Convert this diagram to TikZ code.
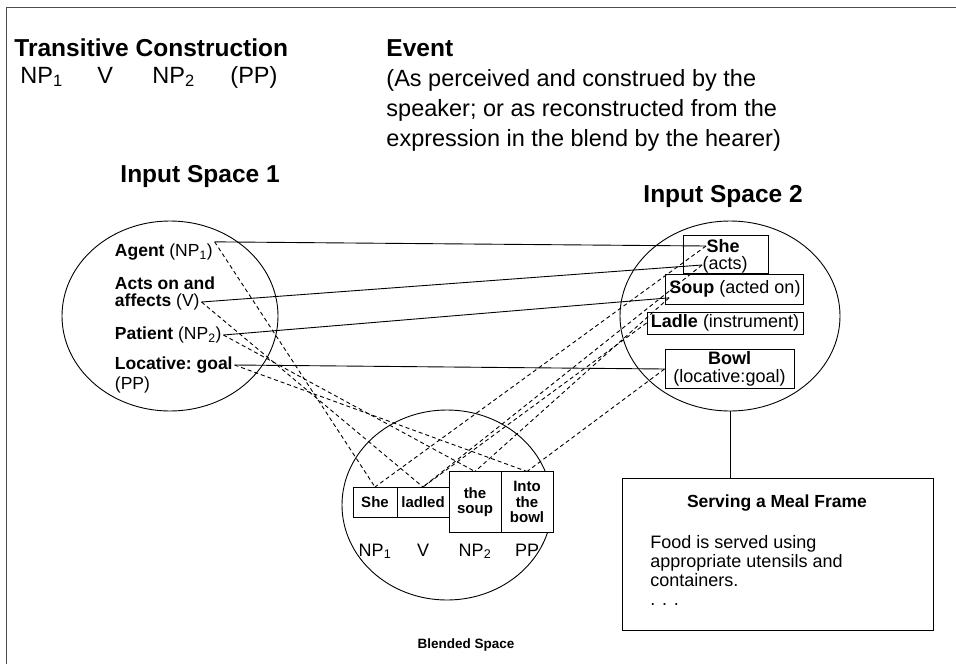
\documentclass[tikz,border=0pt]{standalone}
\usepackage{fontspec}
\setmainfont{Liberation Sans}
\usetikzlibrary{positioning,shapes.geometric}
\definecolor{pFrame}{gray}{0.3}
\tikzset{
    hdr/.style={anchor=west, inner sep=0pt, font=\fontsize{24.5}{30}\selectfont\bfseries},
    txt/.style={anchor=west, inner sep=0pt, align=left, font=\fontsize{23.5}{30}\selectfont},
    spc/.style={ellipse, draw, inner sep=0pt},
    lbl/.style={anchor=west, inner sep=1.5pt, font=\fontsize{17.5}{19}\selectfont},
    rbox/.style={draw, fill=white, inner sep=0pt, align=center, font=\fontsize{18}{18}\selectfont},
    rtxt/.style={inner sep=0pt, font=\fontsize{18}{18}\selectfont},
    bbox/.style={draw, fill=white, inner sep=0pt, outer sep=0pt, minimum width=52, align=center, font=\fontsize{15}{15.5}\selectfont\bfseries},
    syn/.style={inner sep=0pt, anchor=base, font=\fontsize{18}{19}\selectfont},
    map/.style={dash pattern=on 4pt off 3pt}
}

\begin{document}
\begin{tikzpicture}[x=1pt,y=-1pt,line width=0.9pt]
\useasboundingbox (0,0) rectangle (956,664);
\draw[pFrame] (6,664) -- (6,7) -- (956,7);

\node[hdr] (trans) at (14,48) {Transitive Construction};
\node[txt, anchor=base west] (np1) at (20,83) {NP\textsubscript{1}};
\node[txt, anchor=base west] (v) at (97,83) {V};
\node[txt, anchor=base west] (np2) at (152,83) {NP\textsubscript{2}};
\node[txt, anchor=base west] (pp) at (230,83) {(PP)};
\node[hdr] (event) at (386,48) {Event};
\node[txt] (evtxt) at (386,110) {(As perceived and construed by the\\speaker; or as reconstructed from the\\expression in the blend by the hearer)};
\node[hdr] (isp1) at (120,176) {Input Space 1};
\node[hdr] (isp2) at (643,196) {Input Space 2};

\node[spc, minimum width=216, minimum height=190] (in1) at (170,316) {};
\node[lbl] (agent) at (113,252) {\textbf{Agent} (NP\textsubscript{1})};
\node[lbl] (acts1) at (113,283) {\textbf{Acts on and}};
\node[lbl] (acts2) at (113,302) {\textbf{affects} (V)};
\node[lbl] (patient) at (113,335) {\textbf{Patient} (NP\textsubscript{2})};
\node[lbl] (loc1) at (113,365) {\textbf{Locative:\ goal}};
\node[lbl] (loc2) at (113,385) {(PP)};

\node[spc, minimum width=220, minimum height=190] (in2) at (730,316) {};
\node[rbox, minimum width=85, minimum height=38] (shebox) at (725.5,254) {};
\node[rtxt, font=\fontsize{18}{18}\selectfont\bfseries] (she) at (723,246) {She};
\node[rtxt] (acts) at (725,265) {(acts)};
\node[rbox, minimum width=138, minimum height=30] (soupbox) at (734,289) {};
\node[rtxt] (soup) at (735,289) {\textbf{Soup} (acted on)};
\node[rbox, minimum width=156, minimum height=22] (ladle) at (725,323) {\textbf{Ladle} (instrument)};
\node[rbox, minimum width=129, minimum height=39] (bowl) at (729.5,369) {\textbf{Bowl}\\(locative:goal)};

\node[draw, fill=white, minimum width=311, minimum height=152] (meal) at (777.5,554) {};
\node[inner sep=0pt, font=\fontsize{17.5}{19}\selectfont\bfseries] (mealttl) at (777,503) {Serving a Meal Frame};
\node[anchor=west, inner sep=0pt, align=left, font=\fontsize{18}{19}\selectfont] (mealtxt) at (650,570) {Food is served using\\appropriate utensils and\\containers.\\. . .};
\draw (in2.south) -- (in2.south |- meal.north);

\node[spc, minimum width=210, minimum height=190] (bl) at (447,505) {};
\node[bbox, minimum width=44, minimum height=30] (sheb) at (375,502) {She};
\node[bbox, minimum height=30, right=0pt of sheb] (ladled) {ladled};
\node[bbox, minimum height=61, right=0pt of ladled] (theb) {the\\soup};
\node[bbox, minimum height=61, right=0pt of theb] (intob) {Into\\the\\bowl};
\node[syn] (nps1) at (sheb.center |- 0,556) {NP\textsubscript{1}};
\node[syn] (vs) at (ladled.center |- 0,556) {V};
\node[syn] (nps2) at (theb.center |- 0,556) {NP\textsubscript{2}};
\node[syn] (pps) at (intob.center |- 0,556) {PP};
\node[inner sep=0pt, font=\fontsize{13.5}{15}\selectfont\bfseries] (blname) at (466,645) {Blended Space};

\draw (agent.north east) -- (she.west);
\draw (acts2.east) -- (acts.west);
\draw (patient.east) -- (soup.south west);
\draw (loc1.east) -- (bowl.west);
\draw[map] (agent.north east) -- (sheb.north);
\draw[map] (acts2.east) -- (ladled.north);
\draw[map] (patient.east) -- (theb.north);
\draw[map] (loc1.east) -- (intob.north);
\draw[map] (she.west) -- (sheb.north);
\draw[map] (acts.west) -- (ladled.north);
\draw[map] (soup.south west) -- (theb.north);
\draw[map] (ladle.west) -- (ladled.north);
\draw[map] (bowl.west) -- (intob.north);
\end{tikzpicture}
\end{document}
